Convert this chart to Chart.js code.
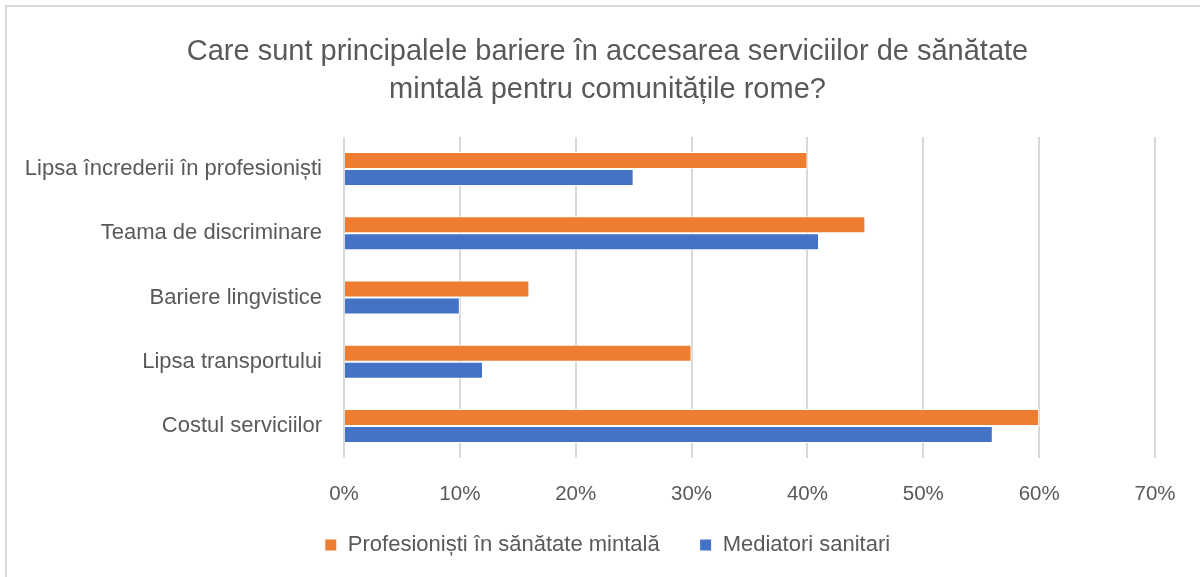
<!DOCTYPE html>
<html lang="ro">
<head>
    <meta charset="UTF-8">
    <title>Bariere în accesarea serviciilor de sănătate mintală</title>
    <script src="https://cdn.jsdelivr.net/npm/chart.js"></script>
    <style>
        html, body { margin: 0; padding: 0; background: #fff; }
        #wrap { width: 1200px; height: 577px; }
    </style>
</head>
<body>
    <div id="wrap"><canvas id="barriersChart" width="1200" height="577"></canvas></div>
    <script>
        const categories = [
            'Lipsa încrederii în profesioniști',
            'Teama de discriminare',
            'Bariere lingvistice',
            'Lipsa transportului',
            'Costul serviciilor'
        ];
        const profesionisti = [40, 45, 16, 30, 60];
        const mediatori = [25, 41, 10, 12, 56];
        const seriesNames = ['Profesioniști în sănătate mintală', 'Mediatori sanitari'];
        const titleLines = ['Care sunt principalele bariere în accesarea serviciilor de sănătate', 'mintală pentru comunitățile rome?'];

        const textColor = '#595959';
        const fontFamily = "'Liberation Sans', Arial, sans-serif";

        // light frame, only top and left edges are visible in the original
        const framePlugin = {
            id: 'frame',
            beforeDraw(chart) {
                const ctx = chart.ctx;
                ctx.save();
                ctx.fillStyle = '#fff';
                ctx.fillRect(0, 0, chart.width, chart.height);
                ctx.strokeStyle = '#d9d9d9';
                ctx.lineWidth = 2;
                ctx.beginPath();
                ctx.moveTo(6, chart.height);
                ctx.lineTo(6, 6);
                ctx.lineTo(chart.width, 6);
                ctx.stroke();
                ctx.restore();
            }
        };

        // labels sit outside the fitted scale boxes, so switch off their clipping
        const noLabelClip = scale => { scale._computeLabelArea = () => undefined; };

        const ctx = document.getElementById('barriersChart').getContext('2d');
        new Chart(ctx, {
            type: 'bar',
            data: {
                labels: categories,
                datasets: [{
                    label: seriesNames[0],
                    data: profesionisti,
                    backgroundColor: '#ED7D31',
                    borderColor: '#ffffff',
                    borderWidth: 1
                }, {
                    label: seriesNames[1],
                    data: mediatori,
                    backgroundColor: '#4472C4',
                    borderColor: '#ffffff',
                    borderWidth: 1
                }]
            },
            options: {
                indexAxis: 'y',
                responsive: false,
                animation: false,
                datasets: {
                    bar: { categoryPercentage: 0.53, barPercentage: 1.0 }
                },
                layout: {
                    padding: { left: 60, right: 45, top: 0, bottom: 11 }
                },
                scales: {
                    x: {
                        min: 0,
                        max: 70,
                        ticks: {
                            stepSize: 10,
                            padding: 24,
                            color: textColor,
                            font: { family: fontFamily, size: 20.5 },
                            callback: v => v + '%'
                        },
                        grid: { color: '#d9d9d9', lineWidth: 2, drawTicks: false },
                        border: { display: false },
                        afterFit(scale) {
                            scale.height = 36;
                            noLabelClip(scale);
                        }
                    },
                    y: {
                        ticks: {
                            padding: 22,
                            color: textColor,
                            font: { family: fontFamily, size: 22 }
                        },
                        grid: { display: false, drawTicks: false },
                        border: { display: false },
                        afterFit(scale) {
                            scale.width = 284;
                            noLabelClip(scale);
                        }
                    }
                },
                plugins: {
                    title: {
                        display: true,
                        text: titleLines,
                        color: textColor,
                        font: { family: fontFamily, size: 29, weight: 'normal', lineHeight: 1.31 },
                        padding: { top: 33, bottom: 28 }
                    },
                    legend: {
                        position: 'bottom',
                        labels: {
                            boxWidth: 12,
                            boxHeight: 12,
                            padding: 40,
                            color: textColor,
                            font: { family: fontFamily, size: 22 }
                        }
                    },
                    tooltip: { enabled: false }
                }
            },
            plugins: [framePlugin]
        });
    </script>
</body>
</html>
